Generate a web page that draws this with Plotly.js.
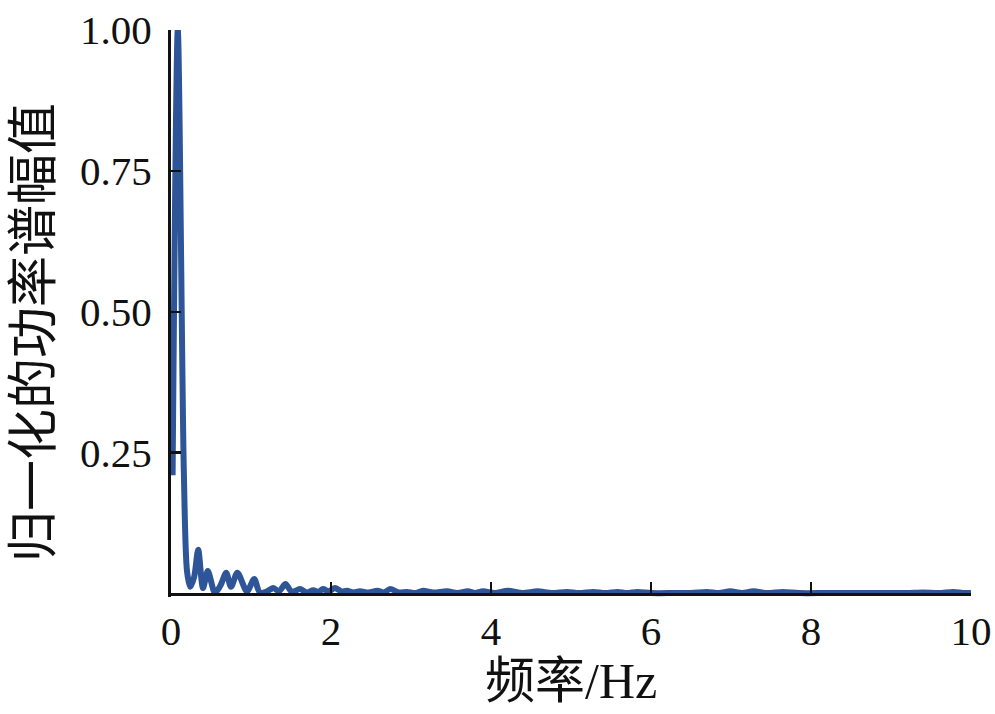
<!DOCTYPE html>
<html>
<head>
<meta charset="utf-8">
<script src="https://cdn.plot.ly/plotly-3.0.1.min.js"></script>
<style>html,body{margin:0;padding:0;background:#fff;}#chart{width:995px;height:714px;}</style>
</head>
<body>
<div id="chart"></div>
<script>
// Frequency (Hz) and normalized power spectral amplitude
const freqHz = [
  0.02, 0.085, 0.16, 0.20, 0.24, 0.29, 0.34, 0.40, 0.46, 0.55,
  0.62, 0.69, 0.75, 0.83, 0.95, 1.04, 1.11, 1.20, 1.28, 1.35,
  1.43, 1.51, 1.61, 1.70, 1.78, 1.84, 1.90, 1.97, 2.05, 2.13,
  2.20, 2.28, 2.36, 2.47, 2.58, 2.66, 2.74, 2.85, 2.95, 3.05,
  3.15, 3.28, 3.45, 3.58, 3.71, 3.80, 3.90, 4.05, 4.21, 4.40,
  4.58, 4.76, 4.95, 5.10, 5.28, 5.43, 5.58, 5.70, 5.83, 6.00,
  6.30, 6.50, 6.70, 6.85, 6.99, 7.14, 7.28, 7.45, 7.65, 7.85,
  8.20, 8.60, 9.00, 9.20, 9.40, 9.60, 9.78, 9.90, 10.0
];
const amplitude = [
  0.21, 1.00, 0.22, 0.04, 0.012, 0.03, 0.078, 0.010, 0.040, 0.001,
  0.015, 0.037, 0.012, 0.037, 0.004, 0.026, 0.002, 0.004, 0.010, 0.004,
  0.017, 0.003, 0.008, 0.002, 0.006, 0.003, 0.008, 0.004, 0.010, 0.004,
  0.005, 0.002, 0.004, 0.002, 0.005, 0.002, 0.008, 0.002, 0.003, 0.001,
  0.005, 0.002, 0.004, 0.001, 0.004, 0.001, 0.004, 0.001, 0.005, 0.001,
  0.004, 0.001, 0.003, 0.001, 0.003, 0.001, 0.003, 0.001, 0.003, 0.001,
  0.001, 0.001, 0.003, 0.001, 0.004, 0.001, 0.004, 0.001, 0.003, 0.001,
  0.001, 0.001, 0.001, 0.001, 0.002, 0.001, 0.003, 0.001, 0.001
];
const xTickVals = [0, 2, 4, 6, 8, 10];
const xTickText = ['0', '2', '4', '6', '8', '10'];
const yTickVals = [0.25, 0.5, 0.75, 1.0];
const yTickText = ['0.25', '0.50', '0.75', '1.00'];
const xTitle = '频率/Hz';
const yTitle = '归一化的功率谱幅值';

const FONT = '"Liberation Serif", "Times New Roman", "Noto Sans CJK SC", serif';
const yMin = -0.006;

const trace = {
  x: freqHz, y: amplitude, type: 'scatter', mode: 'lines',
  line: {color: '#2E5598', width: 6, shape: 'spline', smoothing: 0.8},
  hoverinfo: 'skip', showlegend: false
};

const layout = {
  width: 995, height: 714,
  margin: {l: 171, r: 24, t: 30, b: 116.6, pad: 0},
  paper_bgcolor: '#ffffff', plot_bgcolor: '#ffffff',
  font: {family: FONT, color: '#111', size: 41},
  showlegend: false,
  xaxis: {
    range: [0, 10], anchor: 'free', position: (0 - yMin) / (1 - yMin),
    showline: true, linecolor: '#111', linewidth: 3,
    ticks: 'inside', ticklen: 11, tickwidth: 2.5, tickcolor: '#111',
    tickvals: xTickVals, ticktext: xTickText,
    tickfont: {family: FONT, size: 41, color: '#111'},
    showgrid: false, zeroline: false, fixedrange: true
  },
  yaxis: {
    range: [yMin, 1.0],
    showline: true, linecolor: '#111', linewidth: 3,
    ticks: 'inside', ticklen: 10, tickwidth: 2.5, tickcolor: '#111',
    tickvals: yTickVals, ticktext: yTickText, ticklabelstandoff: 8,
    tickfont: {family: FONT, size: 41, color: '#111'},
    showgrid: false, zeroline: false, fixedrange: true
  },
  annotations: [
    {text: xTitle, xref: 'paper', yref: 'paper', x: 0.5, y: -0.149,
     xanchor: 'center', yanchor: 'middle', showarrow: false,
     font: {family: FONT, size: 50, color: '#111'}},
    {text: yTitle, xref: 'paper', yref: 'paper', x: -0.171, y: 0.466,
     xanchor: 'center', yanchor: 'middle', showarrow: false, textangle: -90,
     font: {family: FONT, size: 51, color: '#111'}}
  ]
};

Plotly.newPlot('chart', [trace], layout, {staticPlot: true, displayModeBar: false});
</script>
</body>
</html>
